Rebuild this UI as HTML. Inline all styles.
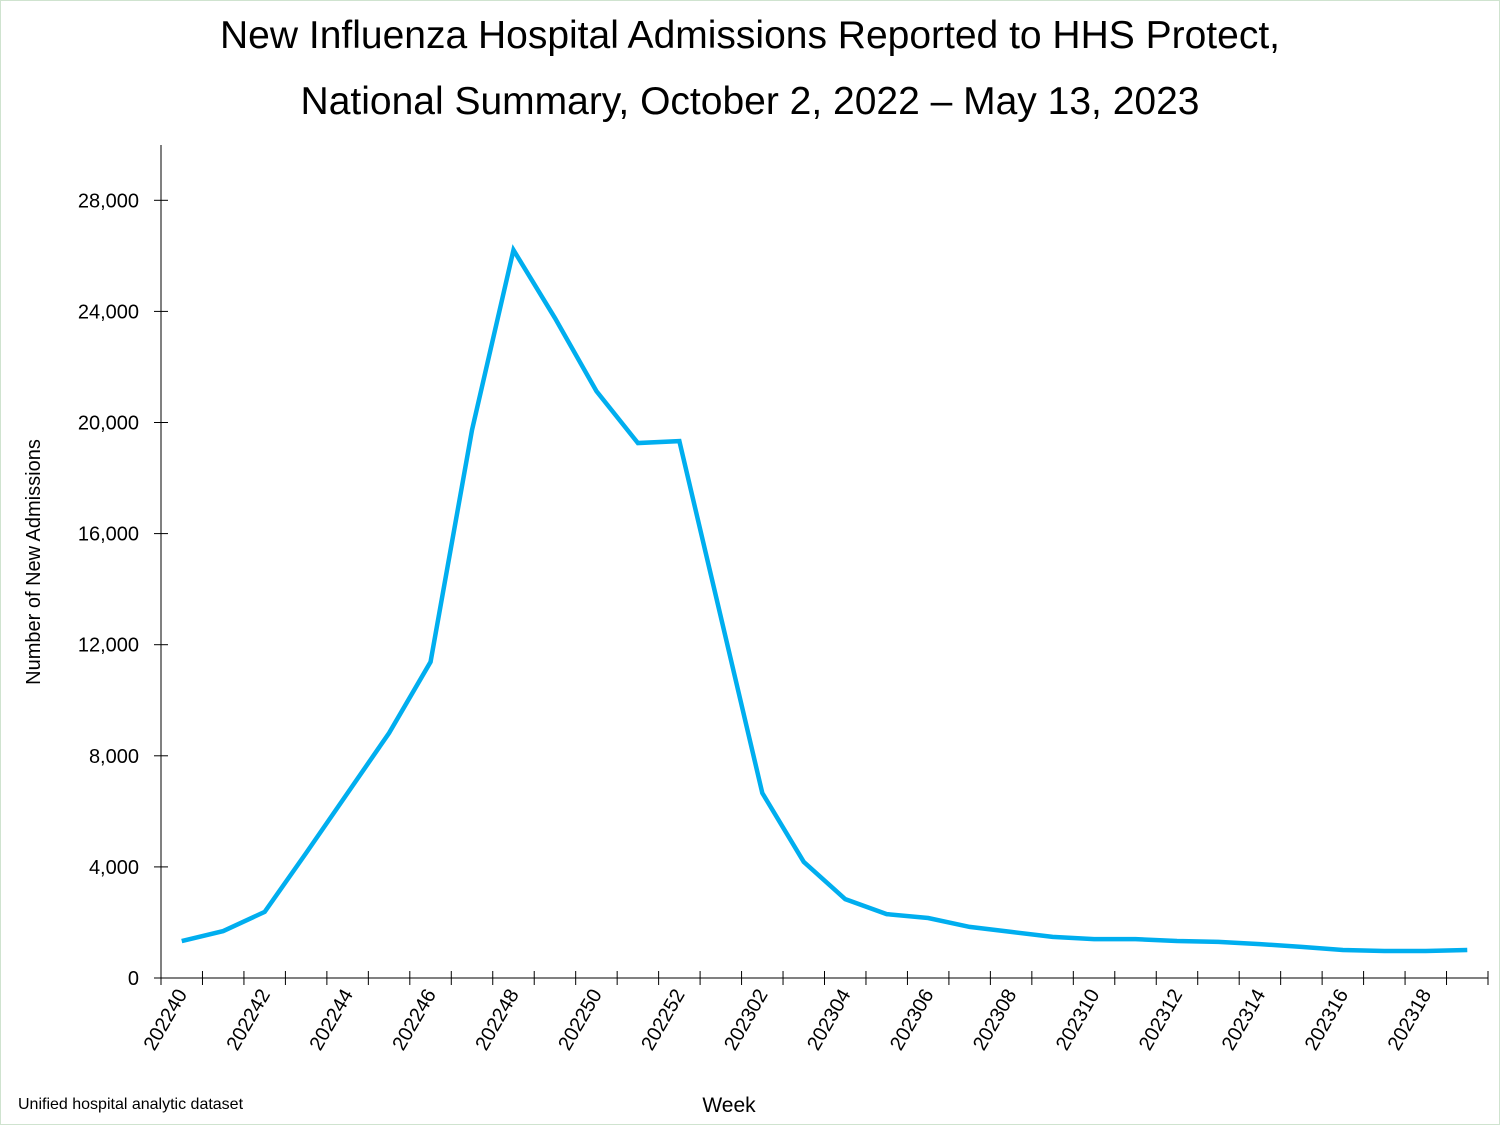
<!DOCTYPE html>
<html><head><meta charset="utf-8"><style>
body{margin:0;background:#fff;}
svg{display:block;font-family:"Liberation Sans",sans-serif;}
</style></head><body>
<svg id="chart" width="1500" height="1125" viewBox="0 0 1500 1125">
<rect x="0.5" y="0.5" width="1499" height="1124" fill="#fff" stroke="#cfe3cf"/>
<text x="750" y="48" text-anchor="middle" font-size="39" fill="#000">New Influenza Hospital Admissions Reported to HHS Protect,</text>
<text x="750" y="114" text-anchor="middle" font-size="39" fill="#000">National Summary, October 2, 2022 – May 13, 2023</text>
<text transform="translate(40,562) rotate(-90)" text-anchor="middle" font-size="20">Number of New Admissions</text>
<text x="729" y="1112" text-anchor="middle" font-size="21">Week</text>
<text x="18" y="1109" font-size="16">Unified hospital analytic dataset</text>
<g id="axes"></g>
<g id="marks"></g>
</svg>
<script>
const weeks=["202240","202241","202242","202243","202244","202245","202246","202247","202248","202249","202250","202251","202252","202301","202302","202303","202304","202305","202306","202307","202308","202309","202310","202311","202312","202313","202314","202315","202316","202317","202318","202319"];
const admissions=[1330,1690,2380,4500,6660,8820,11380,19730,26210,23760,21130,19260,19330,13000,6660,4180,2840,2300,2160,1840,1660,1480,1400,1400,1330,1300,1220,1120,1010,970,970,1010];
const yTicks=[0,4000,8000,12000,16000,20000,24000,28000];
const NS="http://www.w3.org/2000/svg";
const x0=161,x1=1488,y0=978,yTop=145;
const step=(x1-x0)/weeks.length;
const xPos=i=>x0+step*(i+0.5);
const yPos=v=>y0-v*(111.1/4000);
const axes=document.getElementById('axes'),marks=document.getElementById('marks');
function mk(t,a,p){const e=document.createElementNS(NS,t);for(const k in a)e.setAttribute(k,a[k]);p.appendChild(e);return e;}
let yl=mk('line',{x1:x0,y1:yTop,x2:x0,y2:y0,stroke:'#000','stroke-width':1},axes);


let xl=mk('line',{x1:x0,y1:y0,x2:x1,y2:y0,stroke:'#000','stroke-width':1},axes);


yTicks.forEach(v=>{const y=yPos(v);
 let t=mk('line',{x1:x0-7,y1:y,x2:x0+7,y2:y,stroke:'#000'},axes);
 
 
 let l=mk('text',{x:x0-22,y:y+7,'text-anchor':'end','font-size':20},axes);
 l.textContent=v.toLocaleString('en-US');
 
 
});
for(let i=0;i<=weeks.length;i++){const x=x0+step*i;
 let t=mk('line',{x1:x,y1:y0-7,x2:x,y2:y0+7,stroke:'#000'},axes);
 
 
}
weeks.forEach((w,i)=>{if(i%2)return;const x=xPos(i)+6,y=y0+16;
 let l=mk('text',{x:x,y:y,'text-anchor':'end','font-size':20,transform:`rotate(-60 ${x} ${y})`},axes);
 l.textContent=w;
 
 
});
let p=mk('polyline',{points:admissions.map((v,i)=>xPos(i)+','+yPos(v)).join(' '),fill:'none',stroke:'#00aeef','stroke-width':4.5,'stroke-linejoin':'miter'},marks);


</script>
</body></html>
